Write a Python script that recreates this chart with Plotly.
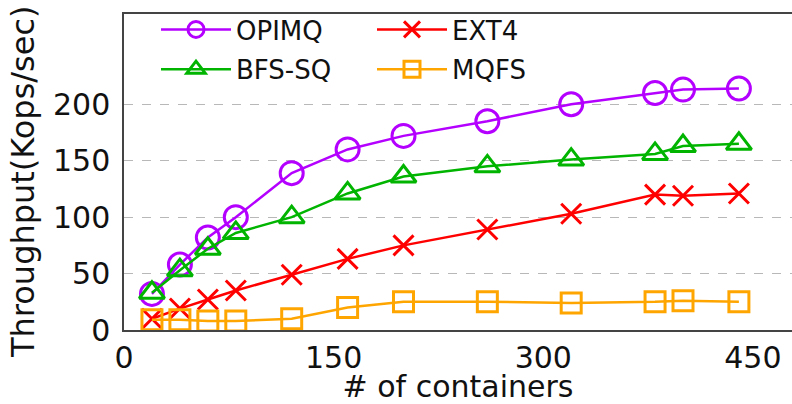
import plotly.graph_objects as go

containers = [20, 40, 60, 80, 120, 160, 200, 260, 320, 380, 400, 440]
opimq = [32, 58, 82, 100, 139, 160, 172, 185, 200, 210, 213, 214]
bfs_sq = [33, 53, 72, 86, 100, 121, 136, 145, 151, 156, 163, 165]
ext4 = [10, 19, 27, 35, 49, 63, 75, 89, 103, 120, 119, 121]
mqfs = [9, 9, 8, 8, 10, 20, 25, 25, 24, 25, 26, 25]

x_ticks = [0, 150, 300, 450]
y_ticks = [0, 50, 100, 150, 200]

W, H = 792, 404
L, R, T, B = 124, 0, 14, 74

series = [
    ("OPIMQ", opimq, "#b400ff", "circle-open", 23, "legend"),
    ("BFS-SQ", bfs_sq, "#00b400", "triangle-up-open", 22, "legend"),
    ("EXT4", ext4, "#ff0000", "x-thin-open", 20, "legend2"),
    ("MQFS", mqfs, "#ffa500", "square-open", 20, "legend2"),
]

fig = go.Figure()
for name, vals, color, sym, size, lg in series:
    fig.add_trace(go.Scatter(
        x=containers, y=vals, name=name, mode="lines+markers",
        line=dict(color=color, width=2.5),
        marker=dict(symbol=sym, size=size, color=color,
                    line=dict(color=color, width=3)),
        legend=lg, legendgroup=name,
    ))

pw = W - L - R
ph = H - T - B

def px_x(p):
    return (p - L) / pw

def px_y(p):
    return (H - B - p) / ph

legend_font = dict(family="DejaVu Sans", size=26, color="#111")
fig.update_layout(
    width=W, height=H,
    margin=dict(l=L, r=R, t=T, b=B, autoexpand=False),
    plot_bgcolor="white", paper_bgcolor="white",
    font=dict(family="DejaVu Sans", color="#111"),
    legend=dict(x=px_x(156), y=px_y(6), xanchor="left", yanchor="top",
                bgcolor="rgba(0,0,0,0)", font=legend_font,
                tracegroupgap=3, itemwidth=70),
    legend2=dict(x=px_x(372), y=px_y(6), xanchor="left", yanchor="top",
                 bgcolor="rgba(0,0,0,0)", font=legend_font,
                 tracegroupgap=3, itemwidth=70),
    xaxis=dict(
        range=[0, 478], tickvals=x_ticks, ticktext=[str(v) for v in x_ticks],
        showgrid=False, zeroline=False,
        showline=True, linecolor="#444", linewidth=1.5, mirror=True,
        ticks="", ticklabelstandoff=0,
        tickfont=dict(family="DejaVu Sans", size=30, color="#111"),
        title=dict(text="# of containers", standoff=19,
                   font=dict(family="DejaVu Sans", size=30, color="#111")),
    ),
    yaxis=dict(
        range=[0, 280], tickvals=y_ticks, ticktext=[str(v) for v in y_ticks],
        showgrid=True, gridcolor="#b8b8b8", griddash="dash", gridwidth=1,
        zeroline=False,
        showline=True, linecolor="#444", linewidth=1.5, mirror=False,
        ticks="", ticklabelstandoff=6,
        tickfont=dict(family="DejaVu Sans", size=30, color="#111"),
    ),
    annotations=[dict(
        text="Throughput(Kops/sec)", textangle=-90, showarrow=False,
        xref="paper", yref="paper", x=px_x(23), y=px_y(182),
        xanchor="center", yanchor="middle",
        font=dict(family="DejaVu Sans", size=32, color="#111"),
    )],
    showlegend=True,
)

fig.write_html("out.html", config={"displayModeBar": False},
               post_script="document.body.style.margin='0';document.body.style.overflow='hidden';")
